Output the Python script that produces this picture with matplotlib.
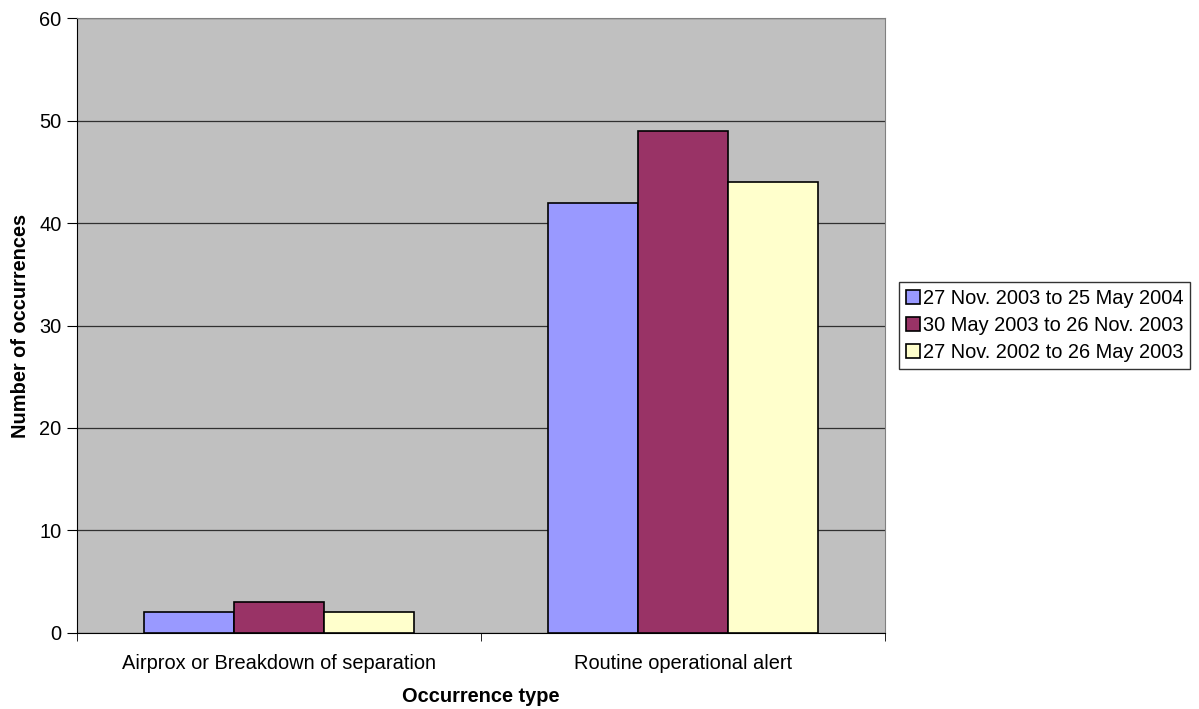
import numpy as np
import matplotlib.pyplot as plt

plt.rcParams['font.family'] = ['Liberation Sans', 'DejaVu Sans']

categories = ["Airprox or Breakdown of separation", "Routine operational alert"]
periods = ["27 Nov. 2003 to 25 May 2004",
           "30 May 2003 to 26 Nov. 2003",
           "27 Nov. 2002 to 26 May 2003"]
counts_2004 = [2, 42]
counts_2003b = [3, 49]
counts_2003a = [2, 44]
colors = ["#9999FF", "#993366", "#FFFFCC"]

fs = 14.4

fig = plt.figure(figsize=(11.99, 7.09), dpi=100)
ax = fig.add_axes([0.0642, 0.1072, 0.6739, 0.8674])
ax.set_facecolor("#C0C0C0")

x = np.arange(len(categories))
width = 0.2228
for i, (vals, lab, col) in enumerate(zip([counts_2004, counts_2003b, counts_2003a], periods, colors)):
    ax.bar(x + (i - 1) * width, vals, width, color=col, edgecolor="black",
           linewidth=1.2, label=lab, zorder=3)

ax.set_xlim(-0.5, 1.5)
ax.set_ylim(0, 60)
ax.set_yticks(range(0, 61, 10))
ax.yaxis.grid(True, color="#303030", linewidth=0.9, zorder=0)

ax.set_xticks(x)
ax.set_xticklabels(categories, fontsize=fs)
ax.set_xticks([-0.5, 0.5, 1.5], minor=True)
ax.tick_params(axis="x", which="major", length=0, pad=15)
ax.tick_params(axis="x", which="minor", length=6, direction="out", color="black")
ax.tick_params(axis="y", length=7, direction="out", labelsize=fs, pad=4)

for side in ["top", "right"]:
    ax.spines[side].set_color("#808080")
for side in ["left", "bottom"]:
    ax.spines[side].set_color("black")

ax.set_xlabel("Occurrence type", fontsize=fs, fontweight="bold", labelpad=10)
ax.set_ylabel("Number of occurrences", fontsize=fs, fontweight="bold", labelpad=7)

leg = ax.legend(loc="center left", bbox_to_anchor=(1.017, 0.5), fontsize=fs,
                frameon=True, fancybox=False, edgecolor="black",
                handlelength=0.7, handleheight=0.7, handletextpad=0.15,
                borderpad=0.35, labelspacing=0.4, borderaxespad=0)
leg.get_frame().set_linewidth(1.0)

fig.savefig("out.png", dpi=100)
